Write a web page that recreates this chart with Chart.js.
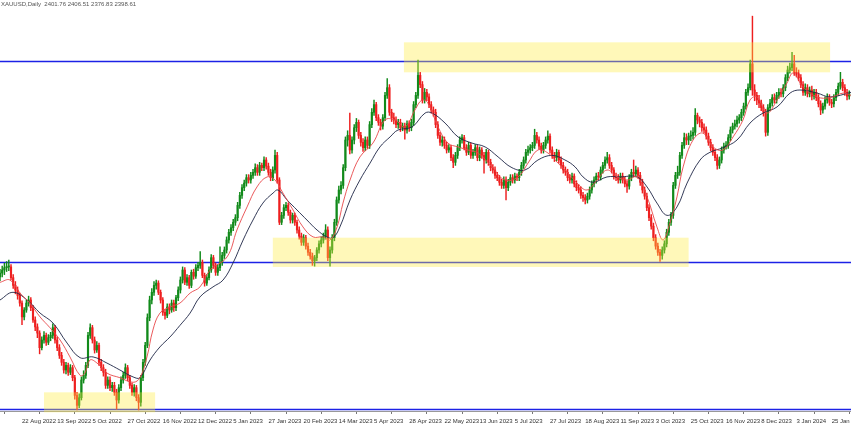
<!DOCTYPE html>
<html>
<head>
<meta charset="utf-8">
<title>XAUUSD Daily</title>
<script src="https://cdn.jsdelivr.net/npm/chart.js@4.4.1/dist/chart.umd.min.js"></script>
<style>
  html, body { margin: 0; padding: 0; background: #fff; }
  #wrap { width: 851px; height: 430px; position: relative; }
</style>
</head>
<body>
<div id="wrap"><canvas id="goldChart"></canvas></div>
<script>
// XAUUSD daily candles (approx.)
const headerText = 'XAUUSD,Daily  2401.76 2406.51 2376.83 2398.61';

const dateLabels = ['22 Aug 2022', '13 Sep 2022', '5 Oct 2022', '27 Oct 2022', '16 Nov 2022', '12 Dec 2022',
  '5 Jan 2023', '27 Jan 2023', '20 Feb 2023', '14 Mar 2023', '5 Apr 2023', '28 Apr 2023', '22 May 2023',
  '13 Jun 2023', '5 Jul 2023', '27 Jul 2023', '18 Aug 2023', '11 Sep 2023', '3 Oct 2023', '25 Oct 2023',
  '16 Nov 2023', '8 Dec 2023', '3 Jan 2024', '25 Jan 2024'];
const labelBars = [10, 26, 42, 58, 74, 90, 106, 122, 138, 154, 170, 186, 202, 218, 234, 250, 266, 282, 298, 314, 330, 346, 362, 378];

const firstOpen = 1790;
const closes = [
  1795,1799,1802,1803,1803,1789,1779,1773,1766,1756,
  1738,1747,1756,1760,1750,1734,1725,1717,1698,1708,
  1714,1705,1711,1714,1724,1708,1698,1688,1679,1669,
  1675,1666,1672,1659,1636,1623,1633,1656,1662,1675,
  1714,1724,1708,1695,1701,1679,1672,1666,1649,1656,
  1646,1649,1640,1630,1646,1656,1662,1672,1659,1649,
  1640,1646,1633,1627,1659,1679,1701,1737,1760,1770,
  1779,1782,1770,1760,1744,1740,1751,1747,1756,1750,
  1763,1773,1786,1799,1783,1789,1779,1796,1791,1802,
  1805,1809,1792,1782,1789,1799,1815,1805,1796,1802,
  1809,1818,1825,1838,1848,1854,1861,1867,1883,1896,
  1906,1912,1919,1916,1922,1926,1932,1926,1935,1932,
  1942,1934,1926,1919,1929,1948,1916,1861,1870,1880,
  1883,1874,1864,1870,1861,1851,1843,1835,1841,1830,
  1822,1817,1811,1815,1825,1833,1838,1843,1851,1815,
  1825,1841,1861,1890,1903,1909,1932,1968,1974,1955,
  1968,1984,1991,1974,1965,1958,1968,1961,1988,2004,
  2014,1997,1991,1986,1997,2026,2036,2004,1997,1994,
  1988,1991,1984,1986,1981,1989,1984,1991,2014,2026,
  2052,2040,2020,2030,2024,2014,2007,2004,1988,1974,
  1965,1968,1961,1955,1958,1945,1939,1948,1958,1968,
  1971,1958,1952,1961,1948,1952,1958,1945,1955,1948,
  1942,1952,1939,1932,1929,1922,1919,1913,1909,1916,
  1906,1913,1919,1916,1921,1919,1926,1935,1942,1952,
  1955,1958,1961,1974,1968,1960,1955,1961,1968,1973,
  1955,1948,1945,1952,1942,1935,1929,1926,1919,1916,
  1921,1911,1906,1903,1896,1893,1890,1895,1903,1911,
  1916,1921,1920,1929,1935,1942,1945,1935,1929,1921,
  1919,1916,1921,1916,1911,1908,1919,1926,1924,1929,
  1922,1913,1903,1895,1880,1867,1856,1841,1830,1822,
  1818,1825,1833,1848,1861,1870,1909,1922,1926,1948,
  1961,1971,1968,1973,1974,1978,2000,1994,1991,1984,
  1981,1973,1965,1958,1952,1945,1935,1942,1955,1960,
  1961,1971,1981,1986,1989,1994,1997,2004,2012,2030,
  2036,2067,2033,2026,2020,2016,2010,2004,1978,2010,
  2016,2023,2020,2026,2030,2028,2036,2049,2059,2062,
  2067,2056,2054,2049,2040,2030,2036,2028,2033,2025,
  2030,2023,2015,2007,2012,2020,2023,2017,2015,2023,
  2030,2038,2043,2036,2030,2025,2028
];
const highs = [
  1800,1804,1808,1810,1812,1806,1793,1784,1777,1769,
  1759,1750,1760,1765,1763,1753,1738,1729,1720,1712,
  1719,1717,1715,1718,1729,1727,1712,1702,1692,1683,
  1679,1678,1676,1675,1662,1640,1638,1660,1668,1679,
  1718,1729,1727,1712,1706,1704,1683,1676,1670,1660,
  1660,1653,1653,1644,1650,1660,1666,1677,1675,1662,
  1652,1650,1649,1637,1662,1683,1705,1742,1765,1775,
  1784,1786,1785,1773,1763,1748,1755,1755,1760,1760,
  1766,1777,1790,1803,1802,1793,1792,1799,1800,1806,
  1809,1823,1812,1795,1793,1803,1819,1818,1808,1806,
  1829,1822,1829,1842,1852,1858,1865,1871,1887,1900,
  1910,1916,1923,1923,1926,1930,1937,1936,1939,1938,
  1946,1945,1938,1930,1933,1955,1952,1919,1874,1884,
  1887,1886,1877,1873,1873,1864,1855,1847,1845,1844,
  1834,1826,1821,1818,1828,1837,1842,1847,1858,1855,
  1829,1845,1865,1894,1908,1914,1936,1972,1980,2003,
  1972,1988,1996,1994,1978,1970,1972,1972,1992,2009,
  2020,2017,2001,1995,2001,2030,2048,2040,2008,2003,
  1998,1995,1995,1990,1990,1993,1993,1995,2018,2030,
  2072,2056,2044,2035,2034,2028,2018,2011,2008,1992,
  1978,1973,1972,1965,1962,1961,1949,1952,1962,1972,
  1975,1974,1962,1965,1964,1956,1962,1961,1959,1958,
  1952,1956,1955,1943,1936,1933,1926,1922,1917,1920,
  1920,1917,1923,1923,1925,1924,1930,1939,1946,1956,
  1960,1962,1965,1982,1978,1972,1964,1965,1972,1980,
  1976,1959,1952,1956,1955,1946,1939,1933,1930,1923,
  1925,1924,1915,1910,1907,1900,1897,1899,1907,1915,
  1920,1925,1926,1933,1939,1946,1952,1949,1939,1932,
  1925,1923,1925,1925,1920,1915,1923,1930,1942,1934,
  1932,1926,1917,1907,1899,1884,1871,1860,1845,1834,
  1826,1829,1837,1852,1865,1874,1913,1926,1934,1952,
  1965,1977,1976,1977,1980,1984,2009,2003,1998,1995,
  1989,1985,1977,1969,1962,1956,1949,1946,1959,1964,
  1966,1975,1985,1990,1994,1999,2001,2008,2016,2034,
  2041,2072,2129,2040,2030,2026,2020,2014,2008,2014,
  2021,2027,2028,2030,2035,2035,2040,2053,2064,2068,
  2082,2078,2062,2059,2053,2044,2041,2040,2037,2038,
  2034,2034,2027,2019,2016,2024,2028,2027,2021,2027,
  2034,2042,2056,2047,2040,2034,2032
];
const lows = [
  1785,1790,1793,1797,1798,1786,1775,1768,1761,1752,
  1728,1734,1744,1752,1746,1731,1720,1711,1690,1695,
  1704,1701,1702,1707,1710,1704,1694,1684,1675,1665,
  1664,1662,1663,1655,1631,1617,1620,1630,1652,1658,
  1672,1710,1704,1691,1692,1675,1668,1661,1645,1645,
  1642,1641,1636,1618,1626,1642,1652,1658,1655,1645,
  1636,1635,1629,1617,1622,1655,1675,1698,1733,1755,
  1766,1774,1767,1756,1740,1735,1737,1742,1744,1745,
  1746,1759,1769,1782,1780,1779,1775,1776,1787,1788,
  1798,1801,1789,1778,1779,1786,1796,1801,1792,1792,
  1798,1805,1814,1821,1834,1844,1850,1857,1863,1879,
  1892,1902,1908,1912,1912,1918,1922,1922,1922,1928,
  1928,1930,1922,1915,1915,1925,1912,1858,1858,1866,
  1876,1870,1860,1860,1857,1847,1839,1831,1831,1826,
  1818,1813,1805,1804,1811,1821,1829,1834,1839,1811,
  1804,1821,1837,1857,1886,1898,1905,1928,1960,1950,
  1951,1963,1979,1970,1960,1953,1954,1957,1957,1984,
  2000,1993,1987,1981,1982,1993,2022,2000,1992,1989,
  1984,1983,1979,1980,1969,1977,1979,1980,1987,2010,
  2022,2036,2016,2016,2019,2010,2003,1999,1984,1970,
  1961,1960,1957,1951,1952,1941,1932,1935,1944,1954,
  1964,1955,1948,1949,1944,1944,1948,1941,1941,1944,
  1925,1938,1935,1928,1925,1918,1915,1909,1905,1905,
  1890,1902,1909,1912,1912,1915,1915,1922,1931,1938,
  1948,1951,1954,1957,1964,1956,1951,1951,1957,1964,
  1951,1944,1940,1941,1938,1931,1925,1922,1915,1912,
  1912,1907,1902,1899,1892,1888,1885,1886,1891,1899,
  1907,1912,1916,1916,1925,1931,1938,1931,1925,1917,
  1915,1912,1912,1912,1907,1900,1904,1915,1920,1920,
  1918,1909,1899,1891,1876,1863,1852,1837,1826,1818,
  1810,1813,1821,1829,1844,1857,1866,1905,1918,1922,
  1944,1957,1962,1962,1967,1969,1974,1989,1985,1979,
  1977,1969,1961,1954,1948,1941,1930,1931,1938,1951,
  1956,1957,1967,1977,1982,1985,1990,1993,2000,2008,
  2026,2033,2026,2019,2014,2010,2006,1999,1973,1974,
  2006,2012,2016,2016,2022,2024,2024,2032,2045,2055,
  2058,2052,2050,2045,2036,2026,2026,2024,2024,2020,
  2021,2019,2011,2001,2003,2008,2016,2013,2010,2011,
  2019,2026,2034,2032,2026,2020,2021
];

// moving averages as drawn on the screenshot (bar index, price)
const fastMaBars = [0, 4.5, 9.1, 13.6, 18.2, 22.7, 27.3, 31.8, 36.4, 38.6, 40.9, 44.1, 48.6, 54.5, 60.5, 63.6, 66.8, 69.5,
  72.7, 77.3, 81.8, 86.4, 90.9, 95.5, 103.2, 107.7, 112.3, 116.8, 121.4, 125, 128.6, 133.2, 137.7, 142.3, 146.8, 150,
  153.2, 155.9, 159.1, 163.6, 169.5, 175, 179.5, 184.1, 188.6, 191.8, 194.5, 199.1, 203.6, 208.2, 212.7, 217.3, 223.6,
  229.5, 235.5, 240, 244.5, 249.1, 253.6, 258.2, 262.3, 266.8, 271.4, 275.9, 280.5, 285, 289.5, 294.1, 298.6, 301.4,
  304.5, 307.7, 310.5, 315, 319.5, 324.1, 328.6, 333.2, 337.7, 340.9, 344.1, 348.6, 353.2, 357.7, 360.5, 365, 371.4,
  377.3, 383.2, 386.8];
const fastMaValues = [1783, 1786, 1769, 1756, 1738, 1724, 1708, 1686, 1662, 1665, 1682, 1678, 1665, 1659, 1653, 1659, 1686, 1721,
  1743, 1751, 1756, 1769, 1777, 1799, 1816, 1851, 1881, 1907, 1920, 1916, 1899, 1877, 1855, 1842, 1842, 1838,
  1855, 1886, 1916, 1946, 1964, 1994, 1994, 1985, 2007, 2020, 2016, 1985, 1964, 1959, 1955, 1951, 1933,
  1916, 1920, 1938, 1955, 1951, 1938, 1925, 1912, 1903, 1916, 1929, 1920, 1916, 1920, 1894, 1855, 1838,
  1860, 1894, 1933, 1968, 1977, 1959, 1955, 1972, 1994, 2020, 2024, 2003, 2020, 2042, 2055, 2037, 2024,
  2023, 2029, 2026];
const slowMaBars = [0, 5.9, 12.3, 18.2, 24.1, 30.5, 36.4, 42.3, 48.6, 54.5, 60.5, 63.6, 68.2, 72.7, 77.3, 81.8, 86.4, 90.9,
  96.8, 101.4, 105.9, 110.5, 115, 119.5, 124.1, 126.4, 130.5, 135, 139.5, 144.1, 148.6, 151.4, 154.5, 159.1, 163.6,
  168.2, 172.7, 177.3, 180.9, 187.3, 193.2, 196.4, 202.3, 208.2, 214.5, 220.5, 226.4, 232.7, 238.6, 244.5, 250.9,
  256.8, 261.4, 265, 269.5, 275.9, 281.8, 289.5, 294.1, 298.6, 303.2, 307.7, 312.3, 318.2, 322.7, 328.6, 335, 340.9,
  346.8, 353.2, 359.1, 363.6, 371.4, 377.3, 386.8];
const slowMaValues = [1760, 1770, 1760, 1743, 1730, 1704, 1685, 1686, 1678, 1669, 1660, 1659, 1682, 1699, 1712, 1727, 1743, 1764,
  1777, 1786, 1808, 1838, 1864, 1886, 1899, 1903, 1890, 1877, 1864, 1851, 1842, 1841, 1855, 1890, 1916,
  1938, 1959, 1972, 1981, 1985, 2003, 2003, 1990, 1972, 1964, 1959, 1946, 1932, 1929, 1942, 1948,
  1942, 1933, 1920, 1913, 1920, 1920, 1920, 1907, 1886, 1870, 1881, 1912, 1942, 1952, 1958, 1968, 1990,
  2003, 2011, 2029, 2033, 2029, 2024, 2030];

// support / resistance levels and highlighted zones
const levels = [2071, 1809, 1618];
const zoneFrom = [20, 124, 183.6];
const zoneTo = [70.5, 313, 377.3];
const zoneHigh = [1640, 1841, 2095];
const zoneLow = [1614, 1803, 2056];

const GREEN = '#118a1a';
const RED = '#ee1f1f';

const opens = closes.map((c, i) => i === 0 ? firstOpen : closes[i - 1]);
const candleColors = closes.map((c, i) => c >= opens[i] ? GREEN : RED);
const bodyData = closes.map((c, i) => ({ x: i, y: [opens[i], c] }));
const wickData = closes.map((c, i) => ({ x: i, y: [lows[i], highs[i]] }));
const fastMaData = fastMaBars.map((b, i) => ({ x: b, y: fastMaValues[i] }));
const slowMaData = slowMaBars.map((b, i) => ({ x: b, y: slowMaValues[i] }));

const overlayPlugin = {
  id: 'overlay',
  beforeDatasetsDraw(chart) {
    const { ctx, chartArea, scales } = chart;
    ctx.save();
    ctx.strokeStyle = '#1c22e6';
    ctx.lineWidth = 1.4;
    levels.forEach(v => {
      const py = Math.round(scales.y.getPixelForValue(v)) + 0.5;
      ctx.beginPath();
      ctx.moveTo(chartArea.left, py);
      ctx.lineTo(chartArea.right, py);
      ctx.stroke();
    });
    ctx.restore();
  },
  afterDatasetsDraw(chart) {
    const { ctx, scales } = chart;
    ctx.save();
    ctx.fillStyle = 'rgba(255, 236, 60, 0.36)';
    zoneFrom.forEach((from, i) => {
      const x1 = scales.x.getPixelForValue(from);
      const x2 = scales.x.getPixelForValue(zoneTo[i]);
      const y1 = scales.y.getPixelForValue(zoneHigh[i]);
      const y2 = scales.y.getPixelForValue(zoneLow[i]);
      ctx.fillRect(x1, y1, x2 - x1, y2 - y1);
    });
    ctx.restore();
  },
  afterDraw(chart) {
    const ctx = chart.ctx;
    ctx.save();
    ctx.font = '6px "Liberation Sans"';
    ctx.fillStyle = '#555';
    ctx.textBaseline = 'top';
    ctx.fillText(headerText, 1, 1);
    ctx.restore();
  }
};

new Chart(document.getElementById('goldChart').getContext('2d'), {
  type: 'bar',
  data: {
    datasets: [
      {
        type: 'line',
        data: fastMaData,
        borderColor: '#e8474a',
        borderWidth: 0.9,
        pointRadius: 0,
        tension: 0.4,
        order: 0
      },
      {
        type: 'line',
        data: slowMaData,
        borderColor: '#1d2545',
        borderWidth: 0.9,
        pointRadius: 0,
        tension: 0.4,
        order: 0
      },
      {
        data: bodyData,
        backgroundColor: candleColors,
        barThickness: 1.5,
        minBarLength: 1,
        grouped: false,
        order: 1
      },
      {
        data: wickData,
        backgroundColor: candleColors,
        barThickness: 0.8,
        grouped: false,
        order: 2
      }
    ]
  },
  options: {
    responsive: true,
    maintainAspectRatio: false,
    animation: false,
    layout: { padding: 0 },
    plugins: {
      legend: { display: false },
      tooltip: { enabled: false }
    },
    scales: {
      x: {
        type: 'linear',
        min: 0,
        max: 386.8,
        offset: false,
        afterBuildTicks: scale => {
          scale.ticks = labelBars.map(v => ({ value: v }));
        },
        afterFit: scale => {
          // labels may run off the right edge, like the original
          scale.height = 19;
          scale.paddingLeft = 0;
          scale.paddingRight = 0;
        },
        ticks: {
          autoSkip: false,
          maxRotation: 0,
          align: 'start',
          padding: 4,
          color: '#333',
          font: { family: 'Liberation Sans', size: 6 },
          callback: (value, index) => dateLabels[index]
        },
        grid: { drawOnChartArea: false, drawTicks: true, tickLength: 3, color: '#777' },
        border: { display: true, color: '#999' }
      },
      y: {
        display: false,
        min: 1615.7,
        max: 2150
      }
    }
  },
  plugins: [overlayPlugin]
});
</script>
</body>
</html>
